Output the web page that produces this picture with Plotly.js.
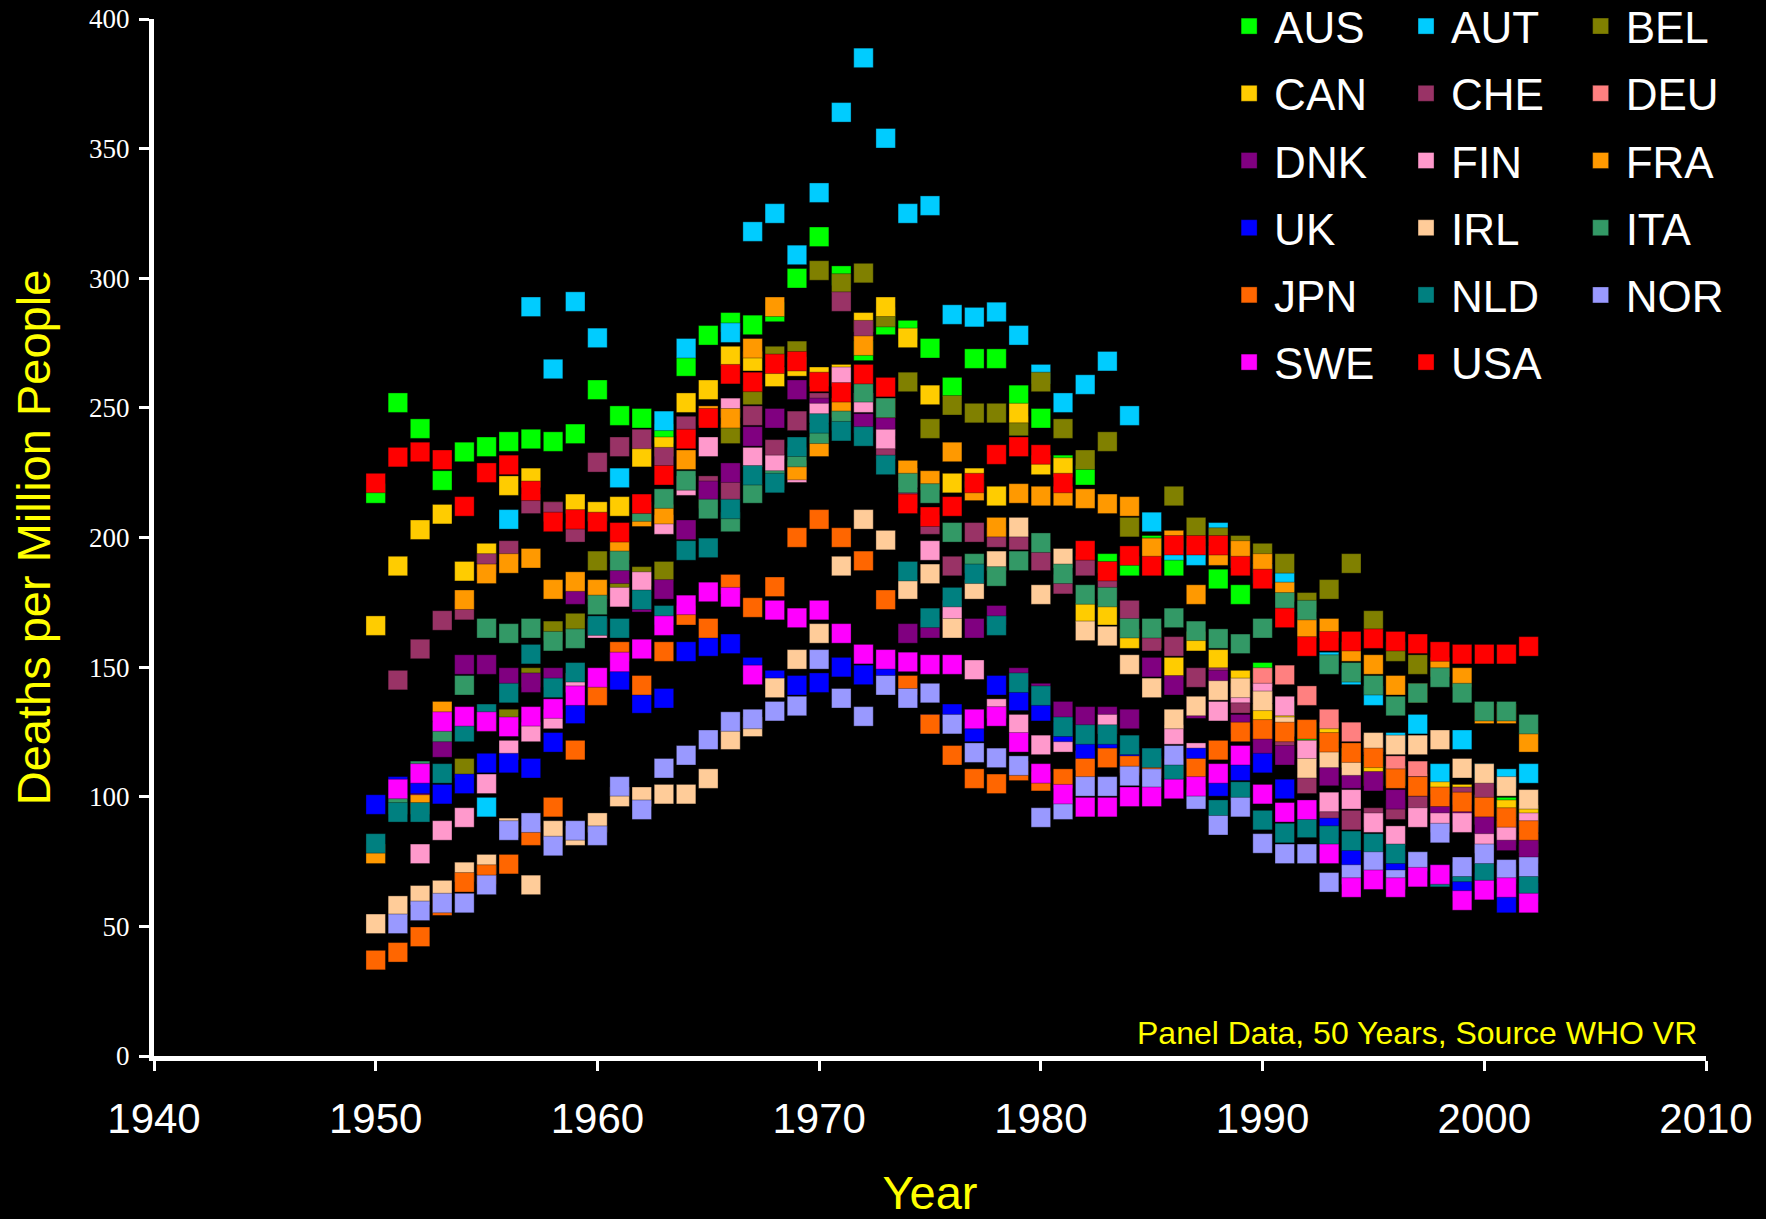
<!DOCTYPE html>
<html>
<head>
<meta charset="utf-8">
<script src="https://cdn.plot.ly/plotly-3.0.1.min.js"></script>
<style>
  html, body { margin: 0; padding: 0; background: #000; }
  #chart { width: 1766px; height: 1219px; }
</style>
</head>
<body>
<div id="chart"></div>
<script>
// Years 1950..2002
const years = [1950,1951,1952,1953,1954,1955,1956,1957,1958,1959,
               1960,1961,1962,1963,1964,1965,1966,1967,1968,1969,
               1970,1971,1972,1973,1974,1975,1976,1977,1978,1979,
               1980,1981,1982,1983,1984,1985,1986,1987,1988,1989,
               1990,1991,1992,1993,1994,1995,1996,1997,1998,1999,
               2000,2001,2002];

const AUS = [217,252,242,222,233,235,237,238,237,240, 257,247,246,240,266,278,283,282,287,300, 316,301,272,282,280,273,258,269,269,255, 246,228,224,190,189,197,189,196,184,178, 148,133,125,118,115,112,108,105,102,100, 97,96,92];
const AUT = [null,null,null,null,null,96,207,289,265,291, 277,223,null,245,273,null,279,318,325,309, 333,364,385,354,325,328,286,285,287,278, 263,252,259,268,247,206,195,193,202,192, 186,183,165,152,147,139,121,128,109,122, 109,107,109];
const BEL = [null,null,null,null,111,129,130,146,164,167, 191,180,185,187,203,215,240,255,270,272, 303,298,302,285,260,242,251,248,248,243, 260,242,230,237,204,196,216,204,200,197, 194,190,175,180,190,168,156,151,null,null, null,null,null];
const CAN = [166,189,203,209,187,194,220,223,210,213, 210,212,231,235,252,257,270,268,262,266, 262,263,283,289,277,255,221,223,216,248, 228,227,171,170,161,161,150,160,153,145, 132,128,118,125,115,108,108,105,102,101, 97,95,93];
const CHE = [null,145,157,168,172,190,195,213,210,202, 229,235,238,231,243,220,218,247,234,245, 252,291,280,234,215,205,189,202,200,199, 191,182,189,180,172,160,158,146,146,136, 125,118,105,95,91,92,95,98,97,100, 103,85,78];
const DEU = [null,null,null,null,null,null,null,null,null,null, null,null,null,null,null,null,null,null,null,null, null,null,null,null,null,null,null,null,null,null, null,null,null,null,null,null,null,null,null,null, 146,147,139,130,125,120,112,110,93,97, 93,88,82];
const DNK = [null,null,102,119,151,151,146,144,146,178, 177,186,175,180,203,218,225,239,246,257, 250,248,244,243,163,165,168,165,170,146, 140,133,131,131,130,150,143,134,145,128, 120,116,115,108,107,106,99,104,95,93, 89,83,80];
const FIN = [null,null,78,87,92,105,118,125,130,144, 165,177,183,205,220,235,250,231,228,225, 248,262,252,238,223,195,172,149,134,128, 120,121,114,128,113,112,124,117,133,140, 140,135,118,98,99,90,85,92,90,90, 82,87,90];
const FRA = [78,null,97,133,176,186,190,192,180,183, 180,195,208,209,230,247,246,273,289,226, 235,250,274,250,226,222,233,218,204,217, 216,216,215,213,212,196,199,178,193,195, 190,179,165,165,156,151,143,140,150,146, 132,132,121];
const UK  = [97,104,105,101,105,113,113,111,121,132, 140,145,136,138,156,158,159,150,145,143, 144,150,147,150,138,128,132,125,143,137, 133,125,118,118,115,115,112,115,104,110, 113,103,95,88,76,75,75,72,70,65, 67,59,63];
const IRL = [51,58,62,64,71,74,88,66,87,85, 90,100,100,101,101,107,122,127,142,153, 163,189,207,199,180,186,165,180,191,204, 178,192,164,162,151,142,130,135,141,142, 137,127,111,115,112,121,120,120,122,111, 109,104,99];
const ITA = [null,97,110,125,143,165,163,165,160,161, 174,191,210,215,222,211,206,217,222,231, 240,245,256,250,221,217,202,190,185,191, 198,186,178,177,165,165,169,164,161,159, 165,175,172,151,148,143,135,140,146,140, 133,133,128];
const JPN = [37,40,46,58,67,70,74,85,96,118, 139,156,143,156,170,165,182,173,181,200, 207,200,191,176,143,128,116,107,105,110, 106,107,111,115,112,111,111,111,118,125, 126,125,126,121,117,115,107,104,100,98, 96,92,87];
const NLD = [82,94,94,109,125,132,140,155,142,148, 166,165,176,170,195,196,211,224,221,235, 244,241,239,228,187,169,177,186,166,144, 139,127,124,124,120,115,110,100,95,102, 91,86,88,85,83,82,78,75,69,71, 71,70,66];
const NOR = [null,51,56,59,59,66,87,90,81,87, 85,104,95,111,116,122,129,130,133,135, 153,138,131,143,138,140,128,117,115,112, 92,95,104,104,108,107,116,99,89,96, 82,78,78,67,70,75,68,75,86,73, 78,72,73];
const SWE = [null,103,109,129,131,129,127,131,134,139, 146,152,157,166,174,179,177,147,172,169, 172,163,155,153,152,151,151,130,131,121, 109,101,96,96,100,100,103,104,109,116, 101,94,95,78,65,68,65,69,70,60, 64,65,59];
const USA = [221,231,233,230,212,225,228,218,206,207, 206,202,213,224,238,246,263,260,267,268, 260,256,263,258,213,208,212,221,232,235, 232,221,195,187,193,189,197,197,197,189, 184,169,158,160,160,161,160,159,156,155, 155,155,158];

const countries = ["AUS","AUT","BEL","CAN","CHE","DEU","DNK","FIN","FRA","UK","IRL","ITA","JPN","NLD","NOR","SWE","USA"];
const values = [AUS,AUT,BEL,CAN,CHE,DEU,DNK,FIN,FRA,UK,IRL,ITA,JPN,NLD,NOR,SWE,USA];
const colors = ["#00FF00","#00CCFF","#808000","#FFCC00","#993366","#FF8080","#800080","#FF99CC","#FF9900",
                "#0000FF","#FFCC99","#339966","#FF6600","#008080","#9999FF","#FF00FF","#FF0000"];
// legend column assignment (row-major, 3 columns)
const legendCols = ["legend","legend2","legend3"];

const traces = countries.map((c, i) => ({
  type: "scatter",
  mode: "markers",
  name: c,
  x: years,
  y: values[i],
  legend: legendCols[i % 3],
  legendgroup: c,
  marker: {
    symbol: "square",
    size: 19.5,
    color: colors[i],
    line: { width: 1, color: "rgba(0,0,0,0.35)" }
  },
  hoverinfo: "x+y+name"
}));

const legendFont = { family: "Liberation Sans, Arial, sans-serif", size: 44, color: "#FFFFFF" };
const legendBase = {
  bgcolor: "rgba(0,0,0,0)",
  borderwidth: 0,
  font: legendFont,
  yanchor: "top",
  y: 1.027,
  xanchor: "left",
  tracegroupgap: 7,
  itemwidth: 40,
  itemsizing: "trace"
};

const layout = {
  width: 1766,
  height: 1219,
  paper_bgcolor: "#000000",
  plot_bgcolor: "#000000",
  margin: { l: 154, r: 60, t: 19, b: 163, autoexpand: false },
  showlegend: true,
  legend:  Object.assign({}, legendBase, { x: 0.6895 }),
  legend2: Object.assign({}, legendBase, { x: 0.8035 }),
  legend3: Object.assign({}, legendBase, { x: 0.9160 }),
  xaxis: {
    range: [1940, 2010],
    dtick: 10,
    tick0: 1940,
    showline: true,
    linecolor: "#FFFFFF",
    linewidth: 5,
    ticks: "outside",
    tickcolor: "#FFFFFF",
    tickwidth: 3,
    ticklen: 10,
    ticklabelstandoff: 12,
    showgrid: false,
    zeroline: false,
    tickfont: { family: "Liberation Sans, Arial, sans-serif", size: 42, color: "#FFFFFF" },
    title: {
      text: "Year",
      font: { family: "Liberation Sans, Arial, sans-serif", size: 47, color: "#FFFF00" },
      standoff: 48
    },
    automargin: false
  },
  yaxis: {
    range: [0, 400],
    dtick: 50,
    showline: true,
    linecolor: "#FFFFFF",
    linewidth: 5,
    ticks: "outside",
    tickcolor: "#FFFFFF",
    tickwidth: 3,
    ticklen: 10,
    ticklabelstandoff: 4,
    showgrid: false,
    zeroline: false,
    tickfont: { family: "Liberation Serif, Times New Roman, serif", size: 27, color: "#FFFFFF" },
    title: {
      text: "Deaths per Million People",
      font: { family: "Liberation Sans, Arial, sans-serif", size: 47, color: "#FFFF00" },
      standoff: 25
    },
    automargin: false
  },
  annotations: [{
    xref: "paper", yref: "paper",
    x: 0.9955, y: 0.0217,
    xanchor: "right", yanchor: "middle",
    showarrow: false,
    text: "Panel Data, 50 Years, Source WHO VR",
    font: { family: "Liberation Sans, Arial, sans-serif", size: 32, color: "#FFFF00" }
  }]
};

Plotly.newPlot("chart", traces, layout, { displayModeBar: false, staticPlot: true });
</script>
</body>
</html>
